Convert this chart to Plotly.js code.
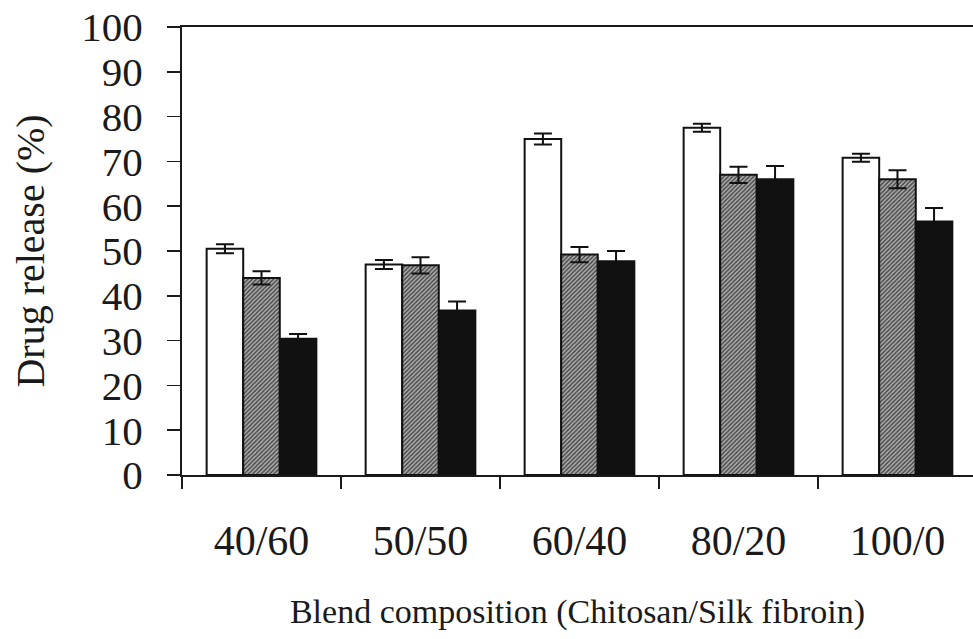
<!DOCTYPE html>
<html>
<head>
<meta charset="utf-8">
<script src="https://cdn.plot.ly/plotly-3.0.1.min.js"></script>
<style>
html,body{margin:0;padding:0;background:#fff;overflow:hidden;}
#chart{width:973px;height:639px;}
</style>
</head>
<body>
<div id="chart"></div>
<script>
// Data
const categories = ["40/60", "50/50", "60/40", "80/20", "100/0"];
const whiteValues = [50.5, 47.0, 75.0, 77.5, 70.8];
const whiteErrors = [1.0, 1.0, 1.2, 0.9, 0.9];
const hatchedValues = [44.0, 46.8, 49.2, 67.0, 66.0];
const hatchedErrors = [1.5, 1.8, 1.7, 1.8, 2.0];
const blackValues = [30.4, 36.7, 47.7, 66.0, 56.6];
const blackErrors = [1.1, 2.0, 2.3, 3.0, 3.0];
const yTickValues = [0, 10, 20, 30, 40, 50, 60, 70, 80, 90, 100];

const fontFamily = '"Liberation Serif", "Times New Roman", serif';

function errBar(arr) {
  return {type: 'data', array: arr, visible: true, color: '#111', thickness: 2, width: 9};
}

const traces = [
  {
    type: 'bar', name: 'Series 1', x: categories, y: whiteValues,
    marker: {color: '#ffffff', line: {color: '#111', width: 2}},
    error_y: errBar(whiteErrors)
  },
  {
    type: 'bar', name: 'Series 2', x: categories, y: hatchedValues,
    marker: {color: '#9a9a9a', line: {color: '#111', width: 2},
      pattern: {shape: '/', bgcolor: '#b0b0b0', fgcolor: '#4a4a4a', size: 3, solidity: 0.5}},
    error_y: errBar(hatchedErrors)
  },
  {
    type: 'bar', name: 'Series 3', x: categories, y: blackValues,
    marker: {color: '#111111', line: {color: '#111', width: 2}},
    error_y: errBar(blackErrors)
  }
];

const layout = {
  width: 973, height: 639,
  margin: {l: 182, r: 0, t: 27, b: 164, pad: 0},
  paper_bgcolor: '#ffffff', plot_bgcolor: '#ffffff',
  showlegend: false,
  barmode: 'group',
  bargap: 0.31,
  bargroupgap: 0,
  font: {family: fontFamily, color: '#1a1a1a'},
  xaxis: {
    type: 'category',
    range: [-0.5, 4.475],
    showline: true, linecolor: '#1a1a1a', linewidth: 2, mirror: true,
    ticks: 'outside', tickson: 'boundaries', ticklen: 12, tickwidth: 1.5, tickcolor: '#1a1a1a',
    tickfont: {family: fontFamily, size: 42, color: '#1a1a1a'},
    ticklabelstandoff: 28,
    showgrid: false, zeroline: false,
    title: {text: 'Blend composition (Chitosan/Silk fibroin)', font: {family: fontFamily, size: 34, color: '#1a1a1a'}, standoff: 36}
  },
  yaxis: {
    range: [0, 100],
    tickmode: 'array', tickvals: yTickValues, ticktext: yTickValues.map(String),
    showline: true, linecolor: '#1a1a1a', linewidth: 2,
    ticks: 'outside', ticklen: 13, tickwidth: 1.5, tickcolor: '#1a1a1a',
    tickfont: {family: fontFamily, size: 41, color: '#1a1a1a'},
    ticklabelstandoff: 16,
    showgrid: false, zeroline: false,
    title: {text: 'Drug release (%)', font: {family: fontFamily, size: 40, color: '#1a1a1a'}, standoff: 24}
  }
};

Plotly.newPlot('chart', traces, layout, {staticPlot: true, displayModeBar: false});
</script>
</body>
</html>
